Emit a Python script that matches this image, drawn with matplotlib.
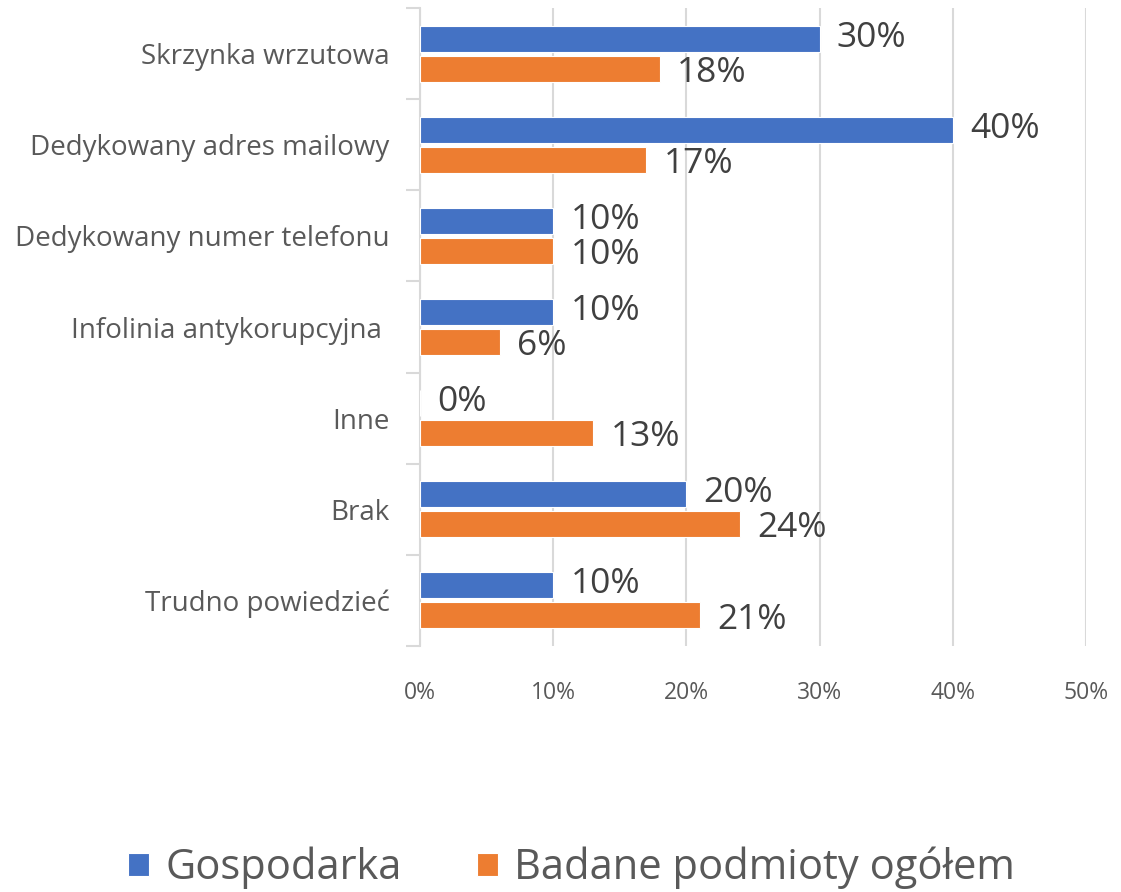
import matplotlib.pyplot as plt
import numpy as np

categories = ['Skrzynka wrzutowa', 'Dedykowany adres mailowy', 'Dedykowany numer telefonu',
              'Infolinia antykorupcyjna ', 'Inne', 'Brak', 'Trudno powiedzieć']
gospodarka = [30, 40, 10, 10, 0, 20, 10]
ogolem = [18, 17, 10, 6, 13, 24, 21]
series_names = ['Gospodarka', 'Badane podmioty ogółem']

blue = '#4472C4'
orange = '#ED7D31'
grey_text = '#595959'
grid_col = '#D9D9D9'

plt.rcParams['font.family'] = ['Open Sans', 'DejaVu Sans']

fig = plt.figure(figsize=(11.21, 8.92), dpi=100)
ax = fig.add_axes([420 / 1121, 1 - 646 / 892, 666 / 1121, 638 / 892])

y = np.arange(len(categories))
h = 0.285
off = 0.165
b1 = ax.barh(y - off, gospodarka, height=h, color=blue, edgecolor='white', linewidth=0.8,
             label=series_names[0], zorder=3)
b2 = ax.barh(y + off, ogolem, height=h, color=orange, edgecolor='white', linewidth=0.8,
             label=series_names[1], zorder=3)

# data labels, nudged apart a little so the pairs don't collide
for bars, vals, dy in ((b1, gospodarka, -0.01), (b2, ogolem, 0.045)):
    for bar, v in zip(bars, vals):
        ax.text(v + 1.3, bar.get_y() + bar.get_height() / 2 + dy, f'{v}%',
                va='center', ha='left', fontsize=25.5, color='#404040', zorder=4)

ax.set_xlim(0, 50)
ax.set_ylim(len(categories) - 0.5, -0.5)
ax.set_xticks(np.arange(0, 51, 10))
ax.set_xticklabels([f'{t}%' for t in range(0, 51, 10)])
ax.set_yticks(y)
ax.set_yticklabels(categories)
ax.set_yticks(np.arange(-0.5, len(categories), 1), minor=True)

ax.grid(axis='x', color=grid_col, linewidth=1.5, zorder=0)
for s in ['top', 'right', 'bottom']:
    ax.spines[s].set_visible(False)
ax.spines['left'].set_color(grid_col)
ax.spines['left'].set_linewidth(1.5)

ax.tick_params(axis='x', length=0, labelsize=16.5, labelcolor=grey_text, pad=25)
ax.tick_params(axis='y', which='major', length=0, labelsize=20, labelcolor=grey_text, pad=22)
ax.tick_params(axis='y', which='minor', length=10, width=1.5, color=grid_col)

fig.legend(handles=[b1, b2], labels=series_names, loc='center', bbox_to_anchor=(0.51, 1 - 868 / 892),
           ncol=2, frameon=False, fontsize=30, labelcolor=grey_text, handlelength=0.5,
           handleheight=0.5, handletextpad=0.4, columnspacing=1.8)

fig.savefig('out.png', dpi=100)
